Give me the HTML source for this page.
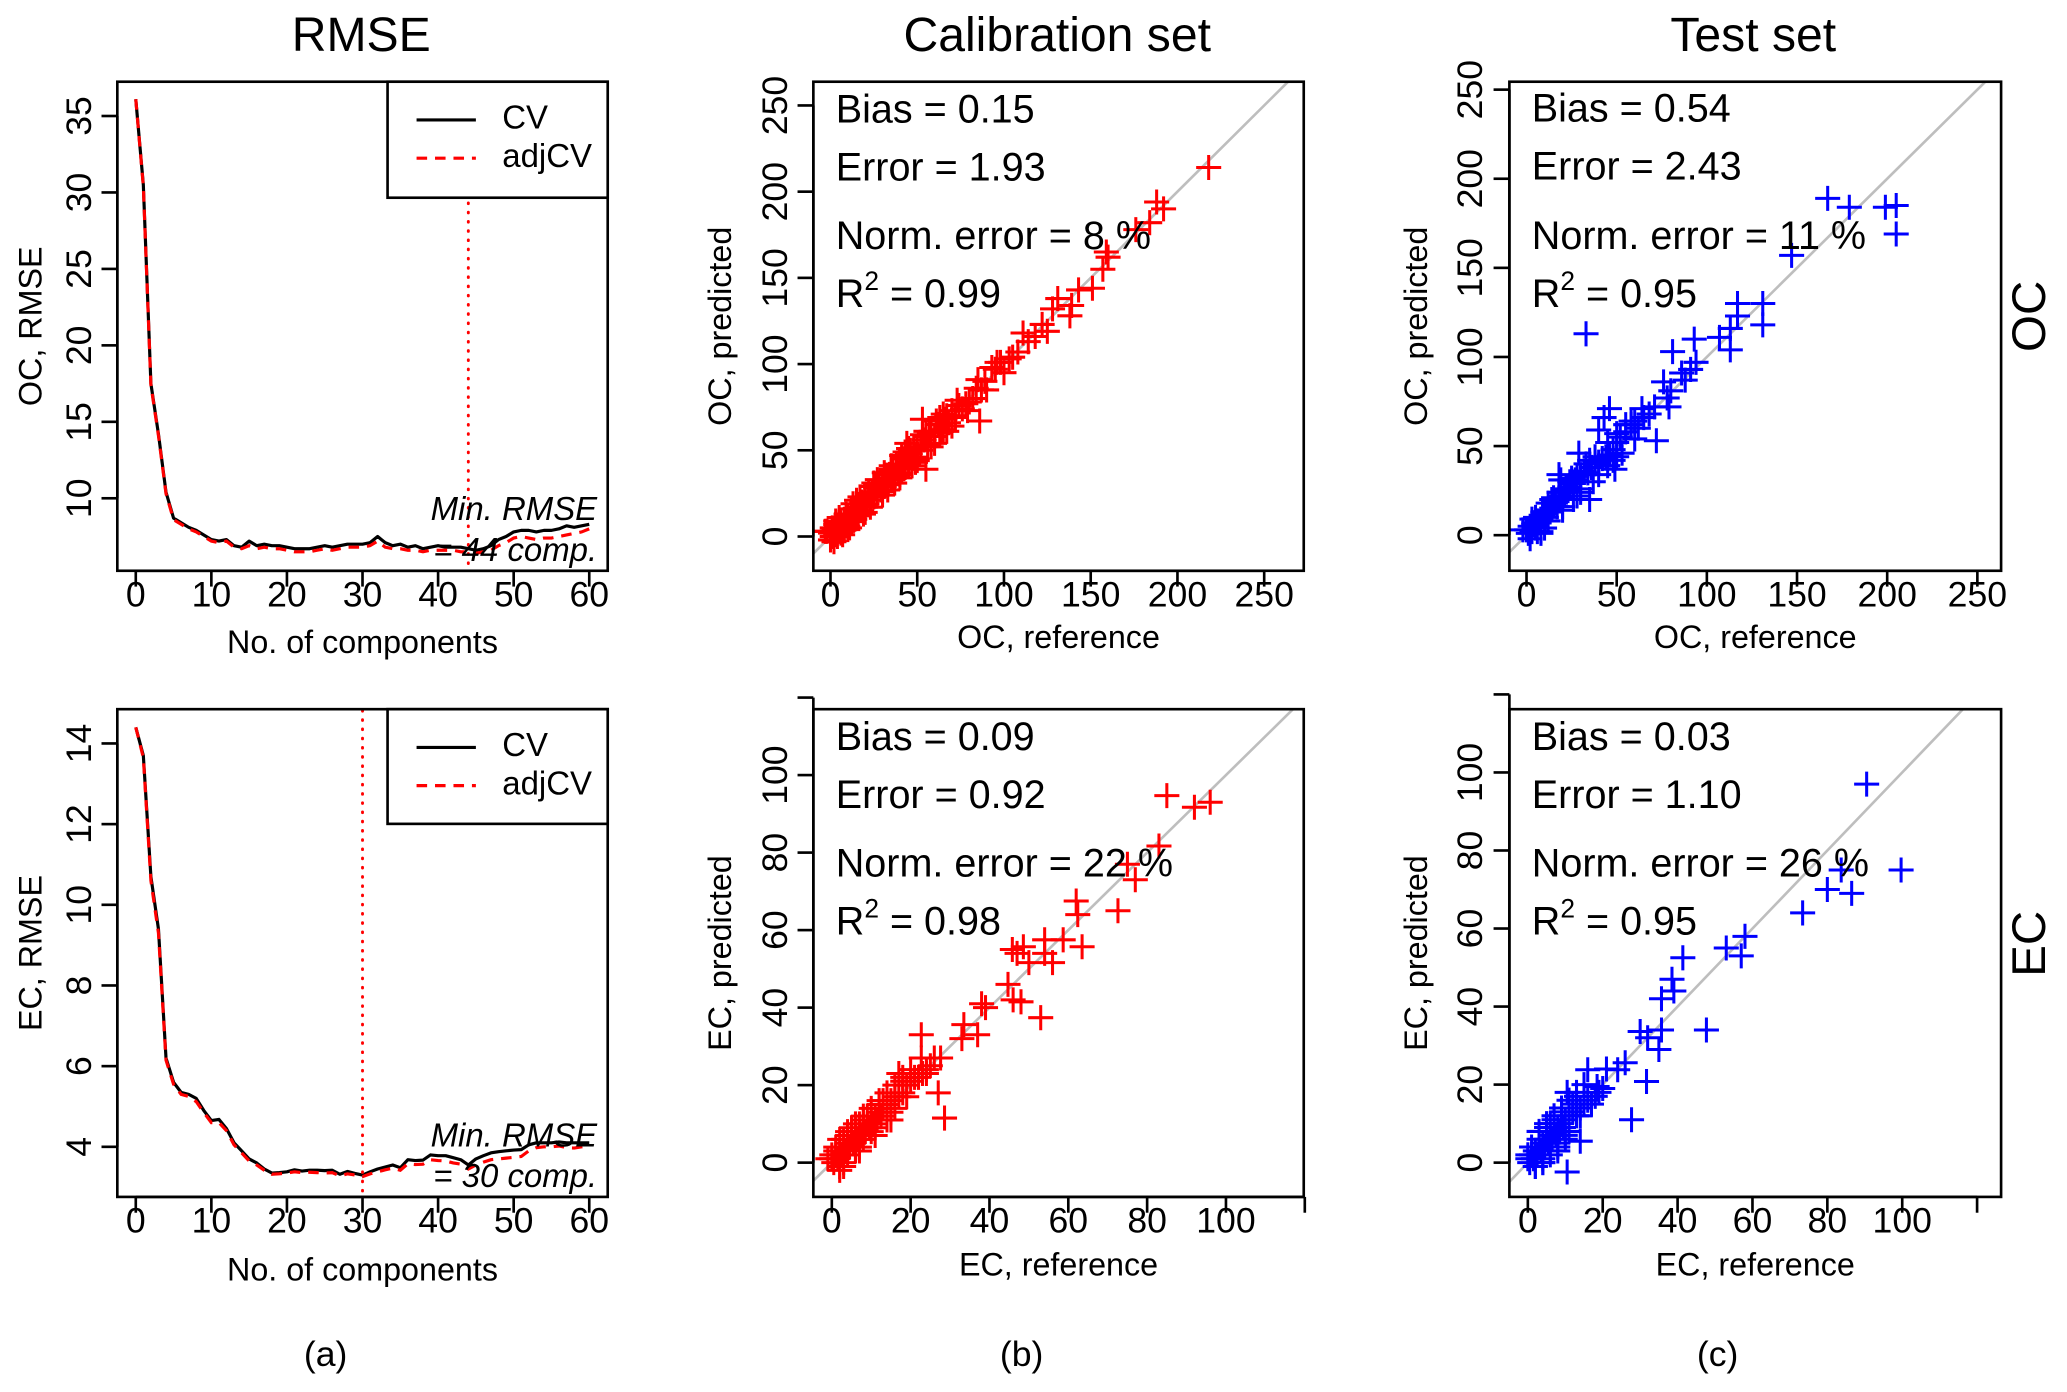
<!DOCTYPE html>
<html><head><meta charset="utf-8"><style>
html,body{margin:0;padding:0;background:#fff;}
svg{display:block;font-family:"Liberation Sans",Arial,sans-serif;}
</style></head><body>
<svg id="fig" width="2067" height="1392" viewBox="0 0 1568 1056" preserveAspectRatio="none" xmlns="http://www.w3.org/2000/svg">
<rect x="0" y="0" width="1568" height="1056" fill="#fff"/>
</svg>
<script>
// ---------- data ----------
const comps = [0,1,2,3,4,5,6,7,8,9,10,11,12,13,14,15,16,17,18,19,20,21,22,23,24,25,26,27,28,29,30,31,32,33,34,35,36,37,38,39,40,41,42,43,44,45,46,47,48,49,50,51,52,53,54,55,56,57,58,59,60];
const ocCV = [36.1,30.5,17.5,14.2,10.4,8.7,8.4,8.1,7.9,7.6,7.3,7.2,7.3,6.9,6.8,7.2,6.9,7.0,6.9,6.9,6.8,6.7,6.7,6.7,6.8,6.9,6.8,6.9,7.0,7.0,7.0,7.1,7.5,7.1,6.9,7.0,6.8,6.9,6.7,6.8,6.9,6.8,6.8,6.8,6.7,6.6,6.7,6.9,7.3,7.5,7.8,7.9,7.9,7.8,7.9,7.9,8.0,8.2,8.1,8.2,8.3];
const ocAdj = [36.1,30.4,17.4,14.1,10.3,8.6,8.3,8.0,7.8,7.5,7.2,7.1,7.2,6.8,6.7,6.9,6.7,6.8,6.7,6.7,6.6,6.5,6.5,6.5,6.6,6.7,6.6,6.7,6.8,6.8,6.8,6.9,7.2,6.8,6.7,6.7,6.6,6.6,6.5,6.6,6.6,6.6,6.6,6.5,6.5,6.4,6.5,6.6,6.9,7.1,7.4,7.5,7.4,7.3,7.4,7.4,7.5,7.6,7.7,7.8,8.0];
const ecCV = [14.4,13.7,10.7,9.4,6.2,5.6,5.35,5.3,5.2,4.9,4.65,4.68,4.45,4.1,3.9,3.7,3.6,3.45,3.35,3.36,3.38,3.43,3.4,3.42,3.42,3.41,3.42,3.32,3.39,3.34,3.3,3.38,3.45,3.5,3.55,3.48,3.68,3.66,3.67,3.8,3.78,3.78,3.73,3.68,3.55,3.7,3.78,3.85,3.88,3.9,3.92,3.93,4.05,4.1,4.1,4.1,4.12,4.1,4.1,4.1,4.1];
const ecAdj = [14.4,13.65,10.6,9.3,6.15,5.55,5.3,5.25,5.12,4.85,4.6,4.6,4.4,4.05,3.85,3.65,3.55,3.42,3.32,3.33,3.35,3.38,3.36,3.37,3.36,3.35,3.36,3.28,3.33,3.3,3.26,3.33,3.38,3.43,3.47,3.42,3.58,3.56,3.57,3.68,3.66,3.65,3.6,3.57,3.45,3.55,3.62,3.68,3.7,3.72,3.74,3.76,3.9,3.98,4.0,4.0,4.02,3.98,3.97,4.0,4.02];
const ocMinComp = 44;
const ecMinComp = 30;

// Calibration OC: reference, predicted
const calOcRef = [218,192,188,184,176,159,160,157,151,143,131,139,128,138,125,111,114,108,103,93,89,86,87,80,72,53,55,44,
 0,1,2,3,4,5,6,7,8,9,10,11,12,13,14,15,16,17,18,19,20,21,22,23,24,25,26,27,28,29,30,31,32,33,34,35,36,37,38,39,40,41,42,43,44,45,46,47,48,49,50,52,54,56,58,60,62,64,66,68,70,72,74,76,78,82,84,95,98,105,118,122,
 2,5,8,12,16,20,25,30,35,40,45,50,3,10,-2,0,6,14,22,28,33,38,43,48,57,63,67,-3,4,9,18,26,36,46,55,65,1,7,
 5,10,15,20,25,30,35,40,45,50,55,60,65,70,7,13,19,27,33,41,47,53,58,63,3,11,17,23,31,37,43,49,61,67,73,79,85,90,96,100];
const calOcPred = [214,190,194,182,178,165,162,155,144,143,138,134,132,128,119,118,113,107,103,98,90,67,85,78,70,68,39,54,
 2,0,4,1,6,3,8,5,10,7,12,9,13,11,16,14,17,15,20,18,22,19,24,21,26,23,28,25,30,27,31,29,34,31,36,33,38,35,40,37,41,39,45,40,47,42,48,44,50,46,52,50,56,53,61,58,65,61,68,66,73,69,76,74,77,80,86,97,101,104,116,123,
 -3,8,4,16,12,17,29,26,39,36,49,45,7,6,3,-2,2,10,25,31,30,42,46,51,60,60,70,3,0,13,15,30,33,50,58,62,5,3,
 11,4,21,14,31,24,41,34,51,44,61,54,71,64,1,19,13,33,27,47,41,59,52,69,9,5,23,17,37,31,49,43,67,61,79,73,91,85,101,95];

const testOcRef = [167,179,199,205,205,147,33,131,131,117,117,113,113,107,93,81,94,91,86,88,76,80,78,79,71,72,64,60,43,46,40,50,53,49,29,35,18,19,
 0,1,2,3,4,5,6,7,8,9,10,11,12,13,14,15,16,17,18,19,20,21,22,23,24,25,26,27,28,30,32,34,36,38,40,42,44,46,48,50,52,55,58,62,65,68,
 2,4,6,9,12,15,20,24,28,33,37,45,-2,3,8,14,22,30,
 5,10,15,20,25,30,35,40,45,50,55,60,8,18,28,38,48,58,12,26];
const testOcPred = [189,184,184,185,169,157,113,130,118,130,123,116,104,111,110,103,97,93,91,87,86,81,77,72,72,53,71,64,66,71,59,57,46,37,46,20,34,31,
 3,1,5,2,6,4,8,7,9,11,12,10,14,13,15,17,18,16,20,22,21,24,26,25,27,30,29,31,33,34,36,35,38,40,41,43,44,45,48,52,55,58,62,60,66,68,
 -2,7,2,13,8,19,16,30,22,40,30,39,3,9,1,20,25,26,
 10,4,21,14,32,24,42,34,52,44,62,54,2,24,22,44,42,64,18,20];

const calEcRef = [85,92,96,83,75,77,72.6,62,62.4,63.5,58.7,54,54,56,50,48.6,45.8,47,53,44.7,46,48,39,38,37,33.5,33,22.7,27.6,28.6,27,24,22.7,18,17,
 0,0.5,1,1.5,2,2.5,3,3.5,4,4.5,5,5.5,6,6.5,7,7.5,8,8.5,9,9.5,10,10.5,11,11.5,12,12.5,13,14,15,16,17,18,19,20,21,22,23,24,25,26,
 1,2,3,4,5,6,7,8,9,10,12,14,16,0,-1,2,4,6,8,11,13,15,19,3,1,5,7,
 2,4,6,8,10,12,14,16,18,20,3,7,11,15];
const calEcPred = [94.7,91.7,93,81.7,77,73,65,67.5,64,55.7,57.5,57.5,54,51.6,51.6,55.7,55,54,37.4,46,42,41.5,40,41,33,35.6,32,33,27,11.5,18,23,27,21,23,
 1,0,2,1,3,2,4,3,5,4,6,5,7,6,8,7,9,8,10,9,11,10,12,11,13,12,14,15,16,17,17,18,20,21,22,22,23,24,25,27,
 4,-1,6,2,8,3,10,6,12,8,15,11,14,2,1,-2,7,3,11,9,16,13,17,0,3,9,4,
 6,8,10,12,14,16,18,20,22,24,-1,3,7,11];

const testEcRef = [90.5,99.7,83.7,80,86.5,73.4,58,53,57,41.4,38.5,39,35.7,47.7,35.7,30,32,35,26,24,31.7,27.7,16,21,18.5,10.5,10.5,14,
 0,0.5,1,1.5,2,2.5,3,3.5,4,4.5,5,5.5,6,6.5,7,7.5,8,8.5,9,9.5,10,11,12,13,14,15,16,17,18,19,20,
 1,2,3,4,5,6,7,8,9,10,12,14,0,2,4,6,8,11,13,3,
 5,7,9,11,13,15,4,6,8,10];
const testEcPred = [97,75,75,70,69,64,58,55,53,52.5,47,44,42,34,34,33.6,32,29,25.6,23.8,20.8,11,23.8,24,19.5,18,-2.4,5.5,
 1,0,2,1,3,2,4,3,5,4,6,5,7,6,8,7,9,8,10,9,11,12,13,12,14,15,16,15,17,18,19,
 4,-1,6,1,9,3,11,5,13,7,15,12,2,-1,0,10,3,8,17,8,
 10,12,14,16,18,20,0,2,4,6];

// ---------- helpers ----------
const NS = "http://www.w3.org/2000/svg";
const svg = document.getElementById('fig');
function mk(tag, attrs, parent){
  const e = document.createElementNS(NS, tag);
  for (const k in attrs) e.setAttribute(k, attrs[k]);
  (parent||svg).appendChild(e);
  return e;
}
function lin(v0,p0,v1,p1){ return v => p0 + (v - v0) * (p1 - p0) / (v1 - v0); }
function txt(s, x, y, size, opts, parent){
  opts = opts || {};
  const a = {x:x, y:y, 'font-size':size, fill:'#000', 'text-anchor':opts.anchor||'middle'};
  if (opts.rot) a.transform = 'rotate(-90 '+x+' '+y+')';
  if (opts.italic) a['font-style'] = 'italic';
  if (opts.base) a['dominant-baseline'] = opts.base;
  const t = mk('text', a, parent);
  t.textContent = s;
  return t;
}

function panel(cfg){
  const g = mk('g', {});
  
  
  const X = lin(cfg.xv[0], cfg.xp[0], cfg.xv[1], cfg.xp[1]);
  const Y = lin(cfg.yv[0], cfg.yp[0], cfg.yv[1], cfg.yp[1]);
  const b = cfg.box;
  const cid = 'clip-' + cfg.name;
  const cp = mk('clipPath', {id: cid}, g);
  mk('rect', {x:b[0], y:b[1], width:b[2]-b[0], height:b[3]-b[1]}, cp);
  const plot = mk('g', {'clip-path':'url(#'+cid+')'}, g);
  
  
  if (cfg.draw) cfg.draw(plot, X, Y);
  const frame = mk('rect', {x:b[0], y:b[1], width:b[2]-b[0], height:b[3]-b[1], fill:'none', stroke:'#000', 'stroke-width':2}, g);
  
  
  const xa = mk('g', {}, g);
  
  
  const xt = cfg.xticks;
  mk('line', {x1:X(xt[0]), x2:X(xt[xt.length-1]), y1:b[3], y2:b[3], stroke:'#000','stroke-width':2}, xa);
  xt.forEach(v => {
    mk('line', {x1:X(v), x2:X(v), y1:b[3], y2:b[3]+12, stroke:'#000','stroke-width':2}, xa);
    if (cfg.xlab.indexOf(v) >= 0) {
      const t = txt(String(v), X(v), b[3]+20, 27, {base:'middle'}, xa);
      
      
    }
  });
  const yaxis = mk('g', {}, g);
  
  
  const yt = cfg.yticks;
  mk('line', {x1:b[0], x2:b[0], y1:Y(yt[0]), y2:Y(yt[yt.length-1]), stroke:'#000','stroke-width':2}, yaxis);
  yt.forEach(v => {
    mk('line', {x1:b[0]-12, x2:b[0], y1:Y(v), y2:Y(v), stroke:'#000','stroke-width':2}, yaxis);
    if (cfg.ylab.indexOf(v) >= 0) {
      const t = txt(String(v), cfg.ylabX, Y(v), 27, {rot:true, base:'middle'}, yaxis);
      
      
    }
  });
  const xtitle = txt(cfg.xtitle, (b[0]+b[2])/2, cfg.xtitleY, 24.5, {base:'middle'}, g);
  
  
  const ytitle = txt(cfg.ytitle, cfg.ytitleX, (b[1]+b[3])/2, 24.5, {rot:true, base:'middle'}, g);
  
  
  if (cfg.after) cfg.after(g, X, Y);
  return g;
}

function polyline(parent, xs, ys, X, Y, attrs, name){
  const pts = xs.map((x,i) => X(x).toFixed(2)+','+Y(ys[i]).toFixed(2)).join(' ');
  const p = mk('polyline', Object.assign({points:pts, fill:'none'}, attrs), parent);
  
  
}

function rmseDraw(cv, adj, minC){
  return function(plot, X, Y){
    polyline(plot, comps, cv, X, Y, {stroke:'#000','stroke-width':2.4,'stroke-linejoin':'round'}, 'cv-line');
    polyline(plot, comps, adj, X, Y, {stroke:'#ff0000','stroke-width':2.4,'stroke-dasharray':'8 6'}, 'adjcv-line');
    const v = mk('line', {x1:X(minC), x2:X(minC), y1:0, y2:1056, stroke:'#ff0000','stroke-width':2.2,'stroke-dasharray':'0.5 6.5','stroke-linecap':'round'}, plot);
    
    
  };
}

function legendAndNote(box, legBottom, minC){
  return function(g){
    const lg = mk('g', {}, g);
    
    
    mk('rect', {x:294, y:box[1], width:box[2]-294, height:legBottom-box[1], fill:'#fff', stroke:'#000','stroke-width':2}, lg);
    const y1 = box[1] + 29, y2 = box[1] + 58;
    const e1 = mk('g', {}, lg);
    
    
    mk('line', {x1:316, x2:361, y1:y1, y2:y1, stroke:'#000','stroke-width':2.4}, e1);
    txt('CV', 381, y1, 25, {anchor:'start', base:'middle'}, e1);
    const e2 = mk('g', {}, lg);
    
    
    mk('line', {x1:316, x2:361, y1:y2, y2:y2, stroke:'#ff0000','stroke-width':2.4,'stroke-dasharray':'8 6'}, e2);
    txt('adjCV', 381, y2, 25, {anchor:'start', base:'middle'}, e2);
    const n1 = txt('Min. RMSE', 453, box[3]-45, 25, {anchor:'end', italic:true, base:'middle'}, g);
    
    
    const n2 = txt('= ' + minC + ' comp.', 453, box[3]-14, 25, {anchor:'end', italic:true, base:'middle'}, g);
    
    
  };
}

function scatterDraw(refs, preds, color, lo, hi){
  return function(plot, X, Y){
    const d = mk('line', {x1:X(lo), y1:Y(lo), x2:X(hi), y2:Y(hi), stroke:'#bebebe','stroke-width':2}, plot);
    
    
    const pg = mk('g', {stroke:color, 'stroke-width':2.3}, plot);
    
    
    refs.forEach((r,i) => {
      const x = X(r), y = Y(preds[i]), a = 9.5;
      const p = mk('path', {d:'M'+(x-a)+' '+y+'H'+(x+a)+'M'+x+' '+(y-a)+'V'+(y+a)}, pg);
      
      
    });
  };
}

function stats(lines, x, ys){
  return function(g){
    lines.forEach((s,i) => {
      let t;
      if (s.indexOf('R2') === 0) {
        t = mk('text', {x:x, y:ys[i], 'font-size':30, fill:'#000'}, g);
        const a = mk('tspan', {}, t); a.textContent = 'R';
        const b = mk('tspan', {'font-size':20, dy:-13}, t); b.textContent = '2';
        const c = mk('tspan', {dy:13}, t); c.textContent = s.slice(2);
      } else {
        t = txt(s, x, ys[i], 30, {anchor:'start'}, g);
      }
      
      
    });
  };
}

// ---------- panels ----------
const topBox = [89, 62, 461, 433];
const botBox = [89, 538, 461, 908];
const rmseX = {xv:[0,60], xp:[103,447]};
const xt060 = [0,10,20,30,40,50,60];

panel(Object.assign({name:'panel-a-oc-rmse', box:topBox, yv:[35,10], yp:[88,378],
  xticks:xt060, xlab:xt060, yticks:[10,15,20,25,30,35], ylab:[10,15,20,25,30,35], ylabX:62,
  xtitle:'No. of components', xtitleY:489, ytitle:'OC, RMSE', ytitleX:25,
  draw:rmseDraw(ocCV, ocAdj, ocMinComp), after:legendAndNote(topBox, 150, ocMinComp)}, rmseX));

panel(Object.assign({name:'panel-a-ec-rmse', box:botBox, yv:[14,4], yp:[564,870],
  xticks:xt060, xlab:xt060, yticks:[4,6,8,10,12,14], ylab:[4,6,8,10,12,14], ylabX:62,
  xtitle:'No. of components', xtitleY:965, ytitle:'EC, RMSE', ytitleX:25,
  draw:rmseDraw(ecCV, ecAdj, ecMinComp), after:legendAndNote(botBox, 625, ecMinComp)}, rmseX));

panel({name:'panel-b-oc-calibration', box:[617,62,989,433], xv:[0,250], xp:[630,959], yv:[0,250], yp:[407,80],
  xticks:[0,50,100,150,200,250], xlab:[0,50,100,150,200,250], yticks:[0,50,100,150,200,250], ylab:[0,50,100,150,200,250], ylabX:590,
  xtitle:'OC, reference', xtitleY:485, ytitle:'OC, predicted', ytitleX:548,
  draw:scatterDraw(calOcRef, calOcPred, '#ff0000', -20, 300),
  after:stats(['Bias = 0.15','Error = 1.93','Norm. error = 8 %','R2 = 0.99'], 634, [93,137,189,233])});

panel({name:'panel-c-oc-test', box:[1145,62,1518,433], xv:[0,250], xp:[1158,1500], yv:[0,250], yp:[406,68],
  xticks:[0,50,100,150,200,250], xlab:[0,50,100,150,200,250], yticks:[0,50,100,150,200,250], ylab:[0,50,100,150,200,250], ylabX:1117,
  xtitle:'OC, reference', xtitleY:485, ytitle:'OC, predicted', ytitleX:1076,
  draw:scatterDraw(testOcRef, testOcPred, '#0000ff', -20, 300),
  after:stats(['Bias = 0.54','Error = 2.43','Norm. error = 11 %','R2 = 0.95'], 1162, [92,136,189,233])});

panel({name:'panel-b-ec-calibration', box:[617,538,989,908], xv:[0,100], xp:[631,930], yv:[0,100], yp:[882,588],
  xticks:[0,20,40,60,80,100,120], xlab:[0,20,40,60,80,100], yticks:[0,20,40,60,80,100,120], ylab:[0,20,40,60,80,100], ylabX:590,
  xtitle:'EC, reference', xtitleY:961, ytitle:'EC, predicted', ytitleX:548,
  draw:scatterDraw(calEcRef, calEcPred, '#ff0000', -10, 130),
  after:stats(['Bias = 0.09','Error = 0.92','Norm. error = 22 %','R2 = 0.98'], 634, [569,613,665,709])});

panel({name:'panel-c-ec-test', box:[1145,538,1518,908], xv:[0,100], xp:[1159,1443], yv:[0,100], yp:[882,586],
  xticks:[0,20,40,60,80,100,120], xlab:[0,20,40,60,80,100], yticks:[0,20,40,60,80,100,120], ylab:[0,20,40,60,80,100], ylabX:1117,
  xtitle:'EC, reference', xtitleY:961, ytitle:'EC, predicted', ytitleX:1076,
  draw:scatterDraw(testEcRef, testEcPred, '#0000ff', -10, 130),
  after:stats(['Bias = 0.03','Error = 1.10','Norm. error = 26 %','R2 = 0.95'], 1162, [569,613,665,709])});

// ---------- titles & labels ----------
[['RMSE',274,'title-rmse'],['Calibration set',802,'title-calibration-set'],['Test set',1330,'title-test-set']].forEach(a => {
  const t = txt(a[0], a[1], 29, 36.5, {base:'middle'});
  
  
});
[['OC',240,'row-label-oc'],['EC',716,'row-label-ec']].forEach(a => {
  const t = txt(a[0], 1542, a[1], 36, {rot:true, base:'middle'});
  
  
});
[['(a)',247,'caption-a'],['(b)',775,'caption-b'],['(c)',1303,'caption-c']].forEach(a => {
  const t = txt(a[0], a[1], 1029, 27, {base:'middle'});
  
  
});
</script>
</body></html>
